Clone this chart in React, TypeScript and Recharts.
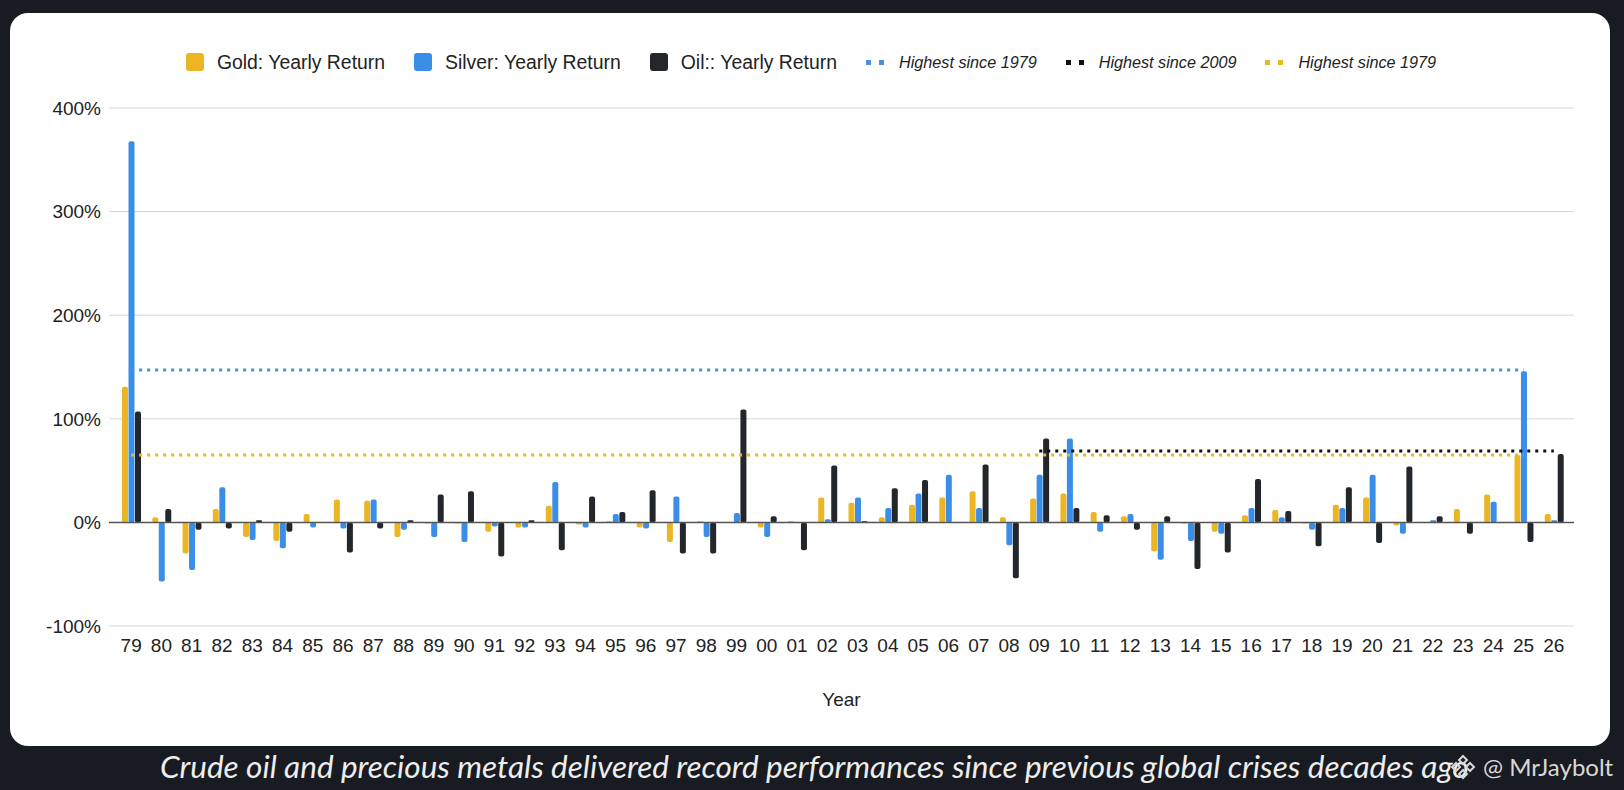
import React from 'react';
import {
  ComposedChart,
  Bar,
  Line,
  XAxis,
  YAxis,
  CartesianGrid,
  ReferenceLine,
} from 'recharts';

// Yearly returns (%), 1979 -> 2026
const years = [
  '79', '80', '81', '82', '83', '84', '85', '86', '87', '88', '89', '90',
  '91', '92', '93', '94', '95', '96', '97', '98', '99', '00', '01', '02',
  '03', '04', '05', '06', '07', '08', '09', '10', '11', '12', '13', '14',
  '15', '16', '17', '18', '19', '20', '21', '22', '23', '24', '25', '26',
];
const goldReturns = [
  131, 5, -30, 13, -14, -18, 8, 22, 21, -14, -1, -1,
  -9, -5, 16, -2, 1, -5, -19, 1, 0, -5, 1, 24,
  19, 5, 17, 24, 30, 5, 23, 28, 10, 6, -28, -1,
  -9, 7, 12, -1, 17, 24, -3, 0, 13, 27, 65, 8,
];
const silverReturns = [
  368, -57, -46, 34, -17, -25, -5, -6, 22, -7, -14, -19,
  -4, -5, 39, -5, 8, -6, 25, -14, 9, -14, 0, 3,
  24, 14, 28, 46, 14, -22, 46, 81, -9, 8, -36, -18,
  -11, 14, 5, -7, 14, 46, -11, 2, 0, 20, 146, 2,
];
const oilReturns = [
  107, 13, -7, -6, 2, -9, 0, -29, -6, 2, 27, 30,
  -33, 2, -27, 25, 10, 31, -30, -30, 109, 6, -27, 55,
  1, 33, 41, 0, 56, -54, 81, 14, 7, -7, 6, -45,
  -29, 42, 11, -23, 34, -20, 54, 6, -11, 0, -19, 66,
];
const yTicks = [-100, 0, 100, 200, 300, 400];

// dotted "highest since" levels and the years they span
const silverHighLevel = 147;
const silverHighSpan = ['79', '25'];
const oilHighLevel = 69;
const oilHighSpan = ['09', '26'];
const goldHighLevel = 65;
const goldHighSpan = ['79', '25'];

const GOLD = '#ebb524';
const SILVER = '#3a8ee8';
const OIL = '#23262a';
const FONT = '"Liberation Sans", Arial, sans-serif';

const inSpan = (i: number, span: string[]) =>
  i >= years.indexOf(span[0]) && i <= years.indexOf(span[1]);

const data = years.map((year, i) => ({
  year,
  gold: goldReturns[i],
  silver: silverReturns[i],
  oil: oilReturns[i],
  silverHigh: inSpan(i, silverHighSpan) ? silverHighLevel : null,
  oilHigh: inSpan(i, oilHighSpan) ? oilHighLevel : null,
  goldHigh: inSpan(i, goldHighSpan) ? goldHighLevel : null,
}));

const legendItems = [
  { label: 'Gold: Yearly Return', color: GOLD, kind: 'bar' },
  { label: 'Silver: Yearly Return', color: SILVER, kind: 'bar' },
  { label: 'Oil:: Yearly Return', color: OIL, kind: 'bar' },
  { label: 'Highest since 1979', color: '#4a8fe0', kind: 'line' },
  { label: 'Highest since 2009', color: '#111', kind: 'line' },
  { label: 'Highest since 1979', color: '#e9b824', kind: 'line' },
];

function ChartLegend() {
  return (
    <div
      style={{
        position: 'absolute',
        left: 0,
        top: 51,
        width: 1622,
        height: 22,
        display: 'flex',
        alignItems: 'center',
        justifyContent: 'center',
        gap: 29,
        fontFamily: FONT,
        color: '#222',
      }}
    >
      {legendItems.map((item, i) => (
        <div key={i} style={{ display: 'flex', alignItems: 'center' }}>
          {item.kind === 'bar' ? (
            <span
              style={{
                width: 18,
                height: 18,
                borderRadius: 3,
                background: item.color,
                marginRight: 13,
              }}
            />
          ) : (
            <span style={{ display: 'flex', gap: 8, marginRight: 15 }}>
              <span style={{ width: 5, height: 5, background: item.color }} />
              <span style={{ width: 5, height: 5, background: item.color }} />
            </span>
          )}
          <span
            style={
              item.kind === 'bar'
                ? { fontSize: 19.4 }
                : { fontSize: 16.2, fontStyle: 'italic' }
            }
          >
            {item.label}
          </span>
        </div>
      ))}
    </div>
  );
}

export default function App() {
  return (
    <div
      style={{
        position: 'absolute',
        left: 0,
        top: 0,
        width: 1624,
        height: 790,
        background: '#181b21',
        overflow: 'hidden',
      }}
    >
      <div
        style={{
          position: 'absolute',
          left: 10,
          top: 13,
          width: 1600,
          height: 733,
          background: '#fff',
          borderRadius: 18,
        }}
      />
      <ChartLegend />
      <div style={{ position: 'absolute', left: 0, top: 0 }}>
        <ComposedChart
          width={1624}
          height={790}
          data={data}
          barSize={6}
          barGap={0.5}
          margin={{ top: 108, right: 50, bottom: 84, left: 0 }}
        >
          <CartesianGrid vertical={false} stroke="#d6d6d6" />
          <XAxis
            dataKey="year"
            interval={0}
            height={80}
            padding={{ left: 7, right: 5 }}
            axisLine={false}
            tickLine={false}
            tickSize={0}
            tickMargin={13}
            tick={{ fill: '#222', fontSize: 19, fontFamily: FONT }}
            label={{
              value: 'Year',
              position: 'insideBottom',
              offset: 0,
              fill: '#222',
              fontSize: 19,
              fontFamily: FONT,
            }}
          />
          <YAxis
            domain={[-100, 400]}
            ticks={yTicks}
            width={109}
            axisLine={false}
            tickLine={false}
            tickSize={0}
            tickMargin={8}
            tickFormatter={(v) => `${v}%`}
            tick={{ fill: '#222', fontSize: 19, fontFamily: FONT }}
          />
          <ReferenceLine y={0} stroke="#555" strokeWidth={1.5} />
          <Bar dataKey="gold" fill={GOLD} radius={2} isAnimationActive={false} />
          <Bar dataKey="silver" fill={SILVER} radius={2} isAnimationActive={false} />
          <Bar dataKey="oil" fill={OIL} radius={2} isAnimationActive={false} />
          <Line
            dataKey="goldHigh"
            stroke="#e9b824"
            strokeWidth={3}
            strokeDasharray="3 5"
            dot={false}
            activeDot={false}
            isAnimationActive={false}
          />
          <Line
            dataKey="silverHigh"
            stroke="#4a8fe0"
            strokeWidth={3}
            strokeDasharray="3 5"
            dot={false}
            activeDot={false}
            isAnimationActive={false}
          />
          <Line
            dataKey="oilHigh"
            stroke="#111"
            strokeWidth={3}
            strokeDasharray="3 5"
            dot={false}
            activeDot={false}
            isAnimationActive={false}
          />
        </ComposedChart>
      </div>
      <div
        style={{
          position: 'absolute',
          left: 160,
          top: 747,
          fontFamily: 'Lato, "Open Sans", sans-serif',
          fontStyle: 'italic',
          fontSize: 31.5,
          color: '#ededed',
          whiteSpace: 'nowrap',
        }}
      >
        Crude oil and precious metals delivered record performances since previous global crises decades ago
      </div>
      <div
        style={{
          position: 'absolute',
          left: 1450,
          top: 752,
          display: 'flex',
          alignItems: 'center',
          gap: 7,
          fontFamily: 'Lato, "Open Sans", sans-serif',
          fontSize: 24,
          color: '#d8d8d8',
          whiteSpace: 'nowrap',
        }}
      >
        <svg width={26} height={26} viewBox="0 0 26 26">
          <g fill="none" stroke="#d8d8d8" strokeWidth={2}>
            <path d="M13 2 L17 6 L13 10 L9 6 Z" />
            <path d="M6 9 L10 13 L6 17 L2 13 Z" />
            <path d="M20 9 L24 13 L20 17 L16 13 Z" />
            <path d="M13 16 L17 20 L13 24 L9 20 Z" />
          </g>
        </svg>
        <span>@ MrJaybolt</span>
      </div>
    </div>
  );
}
